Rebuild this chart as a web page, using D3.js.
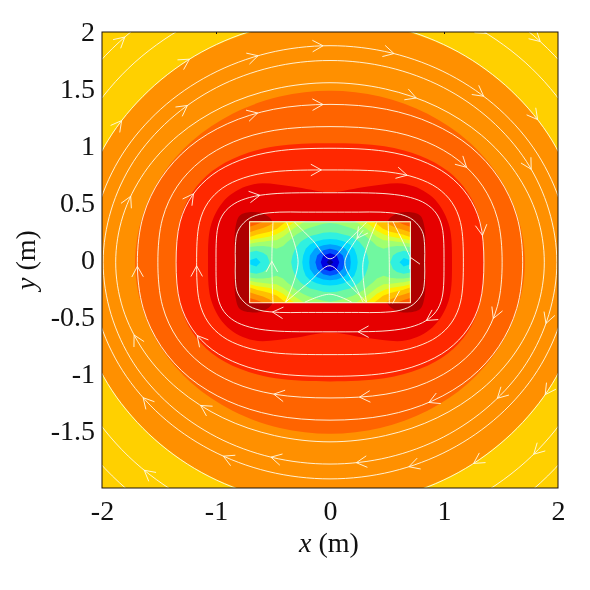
<!DOCTYPE html>
<html><head><meta charset="utf-8">
<script src="https://cdnjs.cloudflare.com/ajax/libs/d3/7.8.5/d3.min.js"></script>
<style>html,body{margin:0;padding:0;background:#fff}svg{display:block;filter:blur(0.35px)}
text{font-family:"Liberation Serif","Times New Roman",serif;fill:#111}</style></head>
<body><svg id="c" width="590" height="590"></svg>
<script>
// x tick labels, y tick labels
const xTicks=[-2,-1,0,1,2];
const yTicks=[-1.5,-1,-0.5,0,0.5,1,1.5,2];
const topTicks=[-1,1];
const centerY=-0.02;
const coilHalf=[0.705,0.355];
// band outlines: first quadrant, from the top (0,h) clockwise to the right (w,0)
const bandColors=["#FFD000","#FF9000","#FF6400","#FF2800","#E60000"];
const bandA=[[0,2.12],[0.58,2.05],[1.125,1.84],[1.59,1.5],[1.95,1.06],[2.17,0.55],[2.25,0]];
const bandB=[[0,1.505],[0.44,1.454],[0.855,1.303],[1.21,1.064],[1.48,0.7525],[1.65,0.39],[1.71,0]];
const bandC=[[0,1.045],[0.478,1.018],[0.79,0.935],[1.034,0.8],[1.208,0.612],[1.315,0.37],[1.35,0]];
const bandD=[[0,0.615],[0.33,0.665],[0.67,0.685],[0.9,0.57],[1.04,0.34],[1.07,0]];
const lobe=[[0.5,0.345],[0.57,0.42],[0.68,0.44],[0.79,0.41],[0.83,0.3],[0.835,0],[0.83,-0.3],[0.79,-0.41],[0.68,-0.44],[0.57,-0.42],[0.5,-0.345],[0.6,0]];
const lobeColor="#AE0000";
// field levels inside the coil, a quarter of it: rows from centre to edge, columns from centre to edge
const coilLevels=[
[0.0,1.0,2.3,3.4,4.4,5.1,5.6,6.1,6.1,5.5,4.8,4.0,4.3],
[1.0,1.5,2.6,3.5,4.5,5.2,5.7,6.1,6.1,5.7,5.2,4.8,5.0],
[2.5,2.8,3.3,4.0,4.8,5.4,5.9,6.3,6.5,6.2,5.9,5.8,6.0],
[4.0,4.1,4.4,4.8,5.3,5.8,6.3,6.8,7.2,7.2,7.4,7.6,8.0],
[5.1,5.2,5.4,5.6,6.0,6.4,7.0,7.7,8.3,8.8,9.1,9.4,10.0],
[6.0,6.0,6.2,6.4,6.7,7.2,7.9,8.9,9.6,10.1,10.4,10.8,11.1],
[6.6,6.7,6.9,7.2,7.6,8.3,9.1,9.8,10.3,10.9,11.5,12.0,12.5]];
const levelColors=["#00008F","#0000E0","#0050FF","#00A0FF","#00D8FF","#30F0E0","#70F8A0","#A0FF70","#D0FF40","#FFF000","#FFC000","#FF9000","#FF6000"];
// closed streamlines: first quadrant
const rings=[
[[0,0.44],[0.25,0.44],[0.44,0.44],[0.62,0.42],[0.73,0.37],[0.81,0.27],[0.83,0.15],[0.83,0]],
[[0,0.61],[0.509,0.6],[0.707,0.568],[0.841,0.513],[0.931,0.431],[0.983,0.31],[1.0,0]],
[[0,0.81],[0.503,0.793],[0.758,0.74],[0.942,0.652],[1.069,0.525],[1.145,0.348],[1.17,0]],
[[0,1.0],[0.478,0.974],[0.791,0.895],[1.034,0.766],[1.208,0.586],[1.315,0.354],[1.35,0]],
[[0,1.19],[0.49,1.157],[0.847,1.056],[1.131,0.891],[1.339,0.668],[1.468,0.387],[1.51,0]],
[[0,1.385],[0.495,1.342],[0.9,1.215],[1.234,1.011],[1.482,0.737],[1.638,0.406],[1.69,0]],
[[0,1.575],[0.487,1.52],[0.94,1.364],[1.33,1.114],[1.628,0.7875],[1.816,0.408],[1.88,0]],
[[0,1.77],[0.515,1.71],[0.995,1.533],[1.407,1.25],[1.723,0.885],[1.92,0.458],[1.99,0]],
[[0,1.9],[0.544,1.835],[1.05,1.645],[1.485,1.343],[1.82,0.95],[2.03,0.49],[2.1,0]],
[[0,2.13],[0.58,2.06],[1.125,1.845],[1.59,1.506],[1.95,1.065],[2.17,0.55],[2.25,0]],
[[0,2.4],[0.65,2.32],[1.25,2.08],[1.77,1.7],[2.165,1.2],[2.415,0.62],[2.5,0]],
[[0,2.65],[0.7,2.56],[1.35,2.295],[1.91,1.874],[2.34,1.325],[2.61,0.686],[2.7,0]]];
// streamlines inside the coil
const inner=[
[[-0.5,-0.36],[-0.51,0],[-0.5,0.36]],
[[0.51,0.36],[0.52,0],[0.52,-0.36]],
[[-0.39,-0.35],[-0.28,0],[-0.38,0.35]],
[[0.41,0.35],[0.29,0],[0.32,-0.35]],
[[0.29,0.28],[0.13,0],[0.22,-0.2],[0.29,-0.35]],
[[-0.31,0.35],[-0.15,0.19],[0,0.03],[0.16,0.19],[0.32,0.35]],
[[0.32,-0.35],[0.16,-0.19],[0,-0.03],[-0.19,-0.18],[-0.39,-0.35]],
[[-0.22,-0.35],[0,-0.28],[0.19,-0.35]],
[[0.55,0.36],[0.64,0.18],[0.71,0.03]],
[[0.61,-0.25],[0.55,-0.36]]];
// arrowheads, where they sit along the streamlines
const arrowsOut=[
[-1.81,1.97],[-1.23,1.77],[-0.63,1.81],[-0.07,1.9],[-0.07,1.37],[-0.63,1.26],[-1.23,1.34],[-1.81,1.21],[-1.75,0.56],[-1.17,0.57],[-0.63,0.64],[-0.07,0.79],
[0.57,1.83],[0.75,1.42],[1.33,1.42],[1.81,1.23],[1.36,1.97],[1.77,1.84],[1.81,0.83],[1.21,0.82],[0.69,0.82],[1.32,0.22],
[-1.68,-0.06],[-1.15,-0.06],[-1.74,-0.66],[-1.15,-0.66],[-0.5,-0.51],[-0.48,-1.13],[-1.1,-1.23],[-1.68,-1.24],[-0.51,-1.73],[-0.98,-1.8],[-1.61,-1.83],
[0.83,-0.51],[0.25,-0.6],[1.43,-0.51],[1.92,-0.57],[0.25,-1.18],[0.83,-1.18],[1.43,-1.17],[1.83,-1.15],[0.23,-1.78],[0.7,-1.81],[1.24,-1.74],[1.86,-1.78]];
const arrowsIn=[[-0.5,-0.02],[0.71,0.03],[0.23,0.19]];

const L=102,R=558,T=32,B=488;
const x=d3.scaleLinear().domain([-2,2]).range([L,R]);
const y=d3.scaleLinear().domain([-2,2]).range([B,T]);
const fy=v=>y(v+centerY);
const svg=d3.select("#c");
const defs=svg.append("defs");
defs.append("clipPath").attr("id","plot").append("rect").attr("x",L).attr("y",T).attr("width",R-L).attr("height",B-T);
defs.append("clipPath").attr("id","coil").append("rect")
 .attr("x",x(-coilHalf[0])).attr("y",fy(coilHalf[1])).attr("width",x(coilHalf[0])-x(-coilHalf[0])).attr("height",fy(-coilHalf[1])-fy(coilHalf[1]));

function ring(q){
 const a=q.map(p=>[p[0],p[1]]);
 const b=q.slice(0,-1).reverse().map(p=>[p[0],-p[1]]);
 const c=q.slice(1).map(p=>[-p[0],-p[1]]);
 const d=q.slice(1,-1).reverse().map(p=>[-p[0],p[1]]);
 return a.concat(b,c,d);
}
const closed=d3.line().x(p=>x(p[0])).y(p=>fy(p[1])).curve(d3.curveCatmullRomClosed.alpha(0.5));
const open=d3.line().x(p=>x(p[0])).y(p=>fy(p[1])).curve(d3.curveCatmullRom.alpha(0.5));

const g=svg.append("g").attr("clip-path","url(#plot)");
g.append("rect").attr("x",L).attr("y",T).attr("width",R-L).attr("height",B-T).attr("fill",bandColors[0]);
[bandA,bandB,bandC,bandD].forEach((q,i)=>g.append("path").attr("d",closed(ring(q))).attr("fill",bandColors[i+1]));
[1,-1].forEach(s=>g.append("path").attr("d",closed(lobe.map(p=>[s*p[0],p[1]]))).attr("fill",lobeColor));

// coil interior
const rows=coilLevels.slice().reverse().concat(coilLevels.slice(1));
const full=rows.map(r=>r.slice().reverse().concat(r.slice(1)));
const nx=full[0].length,ny=full.length;
const values=[];full.forEach(r=>r.forEach(v=>values.push(v)));
const contours=d3.contours().size([nx,ny]).smooth(true).thresholds(d3.range(0.5,12.5,1))(values);
const gx=d3.scaleLinear().domain([0.5,nx-0.5]).range([x(-coilHalf[0]),x(coilHalf[0])]);
const gy=d3.scaleLinear().domain([0.5,ny-0.5]).range([fy(coilHalf[1]),fy(-coilHalf[1])]);
const gp=d3.geoPath(d3.geoTransform({point(a,b){this.stream.point(gx(a),gy(b));}}));
const gc=svg.append("g").attr("clip-path","url(#coil)");
gc.append("rect").attr("x",x(-1)).attr("y",fy(1)).attr("width",x(1)-x(-1)).attr("height",fy(-1)-fy(1)).attr("fill",levelColors[0]);
contours.forEach((c,i)=>gc.append("path").attr("d",gp(c)).attr("fill",levelColors[i+1]));

// streamlines
const gs=svg.append("g").attr("clip-path","url(#plot)").attr("fill","none").attr("stroke","#FFFBE8").attr("stroke-width",1).attr("stroke-opacity",0.9);
const nodes=[];
rings.forEach(q=>nodes.push(gs.append("path").attr("d",closed(ring(q))).node()));
inner.forEach(q=>nodes.push(gs.append("path").attr("d",open(q)).node()));
gs.append("rect").attr("x",x(-coilHalf[0])).attr("y",fy(coilHalf[1])).attr("width",x(coilHalf[0])-x(-coilHalf[0])).attr("height",fy(-coilHalf[1])-fy(coilHalf[1]));

function sample(n){const len=n.getTotalLength(),out=[];for(let s=0;s<=len;s+=2){const p=n.getPointAtLength(s);out.push([p.x,p.y]);}return out;}
const samplesOut=nodes.slice(0,rings.length).map(sample);
const samplesIn=nodes.slice(rings.length).map(sample);
function arrow(a,sets){
 const px=x(a[0]),py=y(a[1]);let best=null,bd=1e9;
 sets.forEach(s=>s.forEach((p,i)=>{const d=(p[0]-px)**2+(p[1]-py)**2;if(d<bd){bd=d;best=[s,i];}}));
 const s=best[0],i=best[1],n=s.length;
 const u=s[(i+4)%n],v=s[(i-4+n)%n],p=s[i];
 const ang=Math.atan2(u[1]-v[1],u[0]-v[0]);
 const l=12,w=0.5;
 const b1=[p[0]-l*Math.cos(ang-w),p[1]-l*Math.sin(ang-w)];
 const b2=[p[0]-l*Math.cos(ang+w),p[1]-l*Math.sin(ang+w)];
 gs.append("path").attr("d",`M${b1}L${p}L${b2}`);
}
arrowsOut.forEach(a=>arrow(a,samplesOut));
arrowsIn.forEach(a=>arrow(a,samplesIn));

// axes
const ax=svg.append("g").attr("transform",`translate(0,${B})`).call(d3.axisBottom(x).tickValues(xTicks).tickFormat(d=>String(d)).tickSize(0).tickPadding(12));
const ay=svg.append("g").attr("transform",`translate(${L},0)`).call(d3.axisLeft(y).tickValues(yTicks).tickFormat(d=>String(d)).tickSize(0).tickPadding(7));
[ax,ay].forEach(a=>{a.select(".domain").remove();a.selectAll("text").attr("font-size",28).attr("font-family","Liberation Serif").attr("fill","#111");});
const at=svg.append("g").attr("transform",`translate(0,${T})`).call(d3.axisTop(x).tickValues(topTicks).tickFormat("").tickSize(-2));
at.select(".domain").remove();at.selectAll("line").attr("stroke","#1a1008");
svg.append("rect").attr("x",L).attr("y",T).attr("width",R-L).attr("height",B-T).attr("fill","none").attr("stroke","#1a1008").attr("stroke-width",1);
const xl=svg.append("text").attr("x",329).attr("y",552).attr("text-anchor","middle").attr("font-size",28);
xl.append("tspan").attr("font-style","italic").text("x");xl.append("tspan").text(" (m)");
const yl=svg.append("text").attr("transform","translate(35,260) rotate(-90)").attr("text-anchor","middle").attr("font-size",28);
yl.append("tspan").attr("font-style","italic").text("y");yl.append("tspan").text(" (m)");
</script></body></html>
